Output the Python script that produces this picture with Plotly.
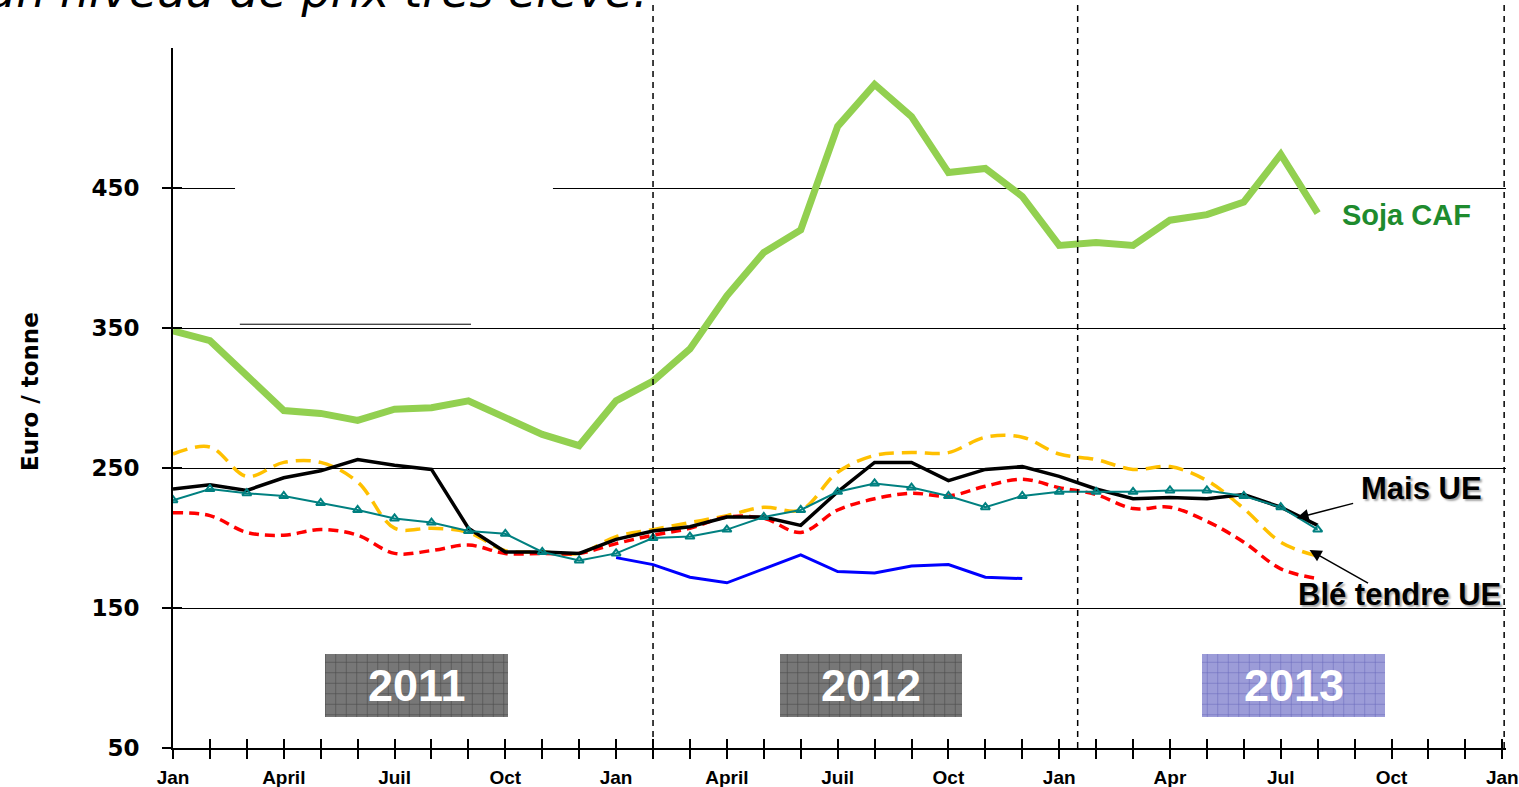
import plotly.graph_objects as go

# ---------------- data ----------------
months = list(range(32))                      # 0 = Jan 2011 ... 31 = Aug 2013
tick_pos = list(range(0, 37, 3))
tick_text = ["Jan", "April", "Juil", "Oct", "Jan", "April", "Juil", "Oct",
             "Jan", "Apr", "Jul", "Oct", "Jan"]
y_ticks = [50, 150, 250, 350, 450]

soja_caf = [348, 341, 316, 291, 289, 284, 292, 293, 298, 286, 274, 266,
            298, 312, 335, 373, 404, 420, 494, 524, 501, 461, 464, 444,
            409, 411, 409, 427, 431, 440, 474, 432]
mais_ue = [235, 238, 234, 243, 248, 256, 252, 249, 207, 190, 190, 189,
           199, 205, 208, 215, 215, 209, 233, 254, 254, 241, 249, 251,
           244, 235, 228, 229, 228, 231, 222, 209]
orge = [260, 265, 244, 254, 254, 240, 207, 207, 204, 191, 190, 189,
        201, 206, 211, 216, 222, 220, 247, 259, 261, 261, 272, 272,
        260, 256, 249, 251, 241, 221, 197, 187]
ble_tendre = [218, 216, 204, 202, 206, 202, 189, 191, 195, 189, 189, 189,
              196, 202, 207, 215, 214, 204, 220, 228, 232, 230, 237, 242,
              236, 231, 221, 222, 212, 197, 178, 171]
teal_series = [227, 235, 232, 230, 225, 220, 214, 211, 205, 203, 190, 184,
               189, 200, 201, 206, 215, 220, 233, 239, 236, 230, 222, 230,
               233, 233, 233, 234, 234, 230, 222, 206]
blue_months = list(range(12, 24))
blue_series = [186, 181, 172, 168, 178, 188, 176, 175, 180, 181, 172, 171]

years = ["2011", "2012", "2013"]

# ---------------- layout constants ----------------
X_RANGE = [0, 36.1]
Y_RANGE = [50, 550]
year_box_x = [6.6, 18.9, 30.35]
year_box_w = 4.95
year_box_base = 72
year_box_h = 45
year_fill = ["#777777", "#777777", "#9c9cd8"]
year_grid = ["#151515", "#151515", "#3434a0"]
sep_lines = [13, 24.5, 36.05]

fig = go.Figure()

# year boxes (hatched)
for i, yr in enumerate(years):
    fig.add_trace(go.Bar(
        x=[year_box_x[i]], y=[year_box_h], base=[year_box_base],
        width=[year_box_w],
        marker=dict(color=year_fill[i], line=dict(width=0),
                    pattern=dict(shape="+", fgcolor=year_grid[i],
                                 bgcolor=year_fill[i], size=10.5, solidity=0.1)),
        hoverinfo="skip", showlegend=False))

fig.add_trace(go.Scatter(x=months, y=orge, mode="lines", line_shape="spline",
                         line=dict(color="#ffc000", width=3.5, dash="15px,8px"),
                         showlegend=False))
fig.add_trace(go.Scatter(x=months, y=ble_tendre, mode="lines", line_shape="spline",
                         line=dict(color="#ff0000", width=3.5, dash="10px,6px"),
                         showlegend=False))
fig.add_trace(go.Scatter(x=months, y=mais_ue, mode="lines",
                         line=dict(color="#000000", width=3.5),
                         showlegend=False))
fig.add_trace(go.Scatter(x=months, y=teal_series, mode="lines+markers",
                         line=dict(color="#008080", width=2),
                         marker=dict(symbol="triangle-up-open", size=8,
                                     color="#008080", line=dict(width=2, color="#008080")),
                         showlegend=False))
fig.add_trace(go.Scatter(x=blue_months, y=blue_series, mode="lines",
                         line=dict(color="#0000ff", width=3),
                         showlegend=False))
fig.add_trace(go.Scatter(x=months, y=soja_caf, mode="lines",
                         line=dict(color="#92d050", width=7),
                         showlegend=False))
# overlay axes carrier (for crossing tick marks)
fig.add_trace(go.Scatter(x=[], y=[], xaxis="x2", yaxis="y2", showlegend=False))

shapes = []
# gap in the 450 gridline and stray line
shapes.append(dict(type="rect", xref="x", yref="y", x0=1.68, x1=10.29, y0=446, y1=454,
                   fillcolor="white", line=dict(width=0), layer="above"))
shapes.append(dict(type="line", xref="x", yref="y", x0=1.81, x1=8.07, y0=352.7, y1=352.7,
                   line=dict(color="black", width=1), layer="above"))
for sx in sep_lines:
    shapes.append(dict(type="line", xref="x", yref="paper", x0=sx, x1=sx, y0=0, y1=1.075,
                       line=dict(color="black", width=1.5, dash="6px,5px"), layer="above"))

annotations = []
# clipped heading at the very top (cut by the top edge as in the original slide)
annotations.append(dict(xref="paper", yref="paper", x=0.358, y=1.04,
                        xanchor="right", yanchor="bottom", showarrow=False,
                        text="un niveau de prix très élevé.",
                        font=dict(family="DejaVu Sans", size=46, color="black",
                                  style="italic")))
for i, yr in enumerate(years):
    annotations.append(dict(x=year_box_x[i], y=year_box_base + year_box_h / 2,
                            xref="x", yref="y", showarrow=False, text="<b>%s</b>" % yr,
                            font=dict(family="Liberation Sans, Arial", size=45, color="white")))
annotations.append(dict(x=33.4, y=430.7, xref="x", yref="y", showarrow=False,
                        text="<b>Soja CAF</b>",
                        font=dict(family="Liberation Sans, Arial", size=29, color="#1e8b2e")))
annotations.append(dict(x=33.81, y=235.7, xref="x", yref="y", showarrow=False,
                        text="<b>Mais UE</b>",
                        font=dict(family="Liberation Sans, Arial", size=31, color="black",
                                  shadow="2px 2px 2px rgba(0,0,0,0.35)")))
annotations.append(dict(x=33.22, y=160, xref="x", yref="y", showarrow=False,
                        text="<b>Blé tendre UE</b>",
                        font=dict(family="Liberation Sans, Arial", size=31, color="black",
                                  shadow="2px 2px 2px rgba(0,0,0,0.35)")))
# arrows
annotations.append(dict(x=30.43, y=214.3, xref="x", yref="y", text="", showarrow=True,
                        ax=58, ay=-15, arrowhead=2, arrowsize=1.6, arrowwidth=1.5,
                        arrowcolor="black", standoff=0))
annotations.append(dict(x=30.78, y=191.4, xref="x", yref="y", text="", showarrow=True,
                        ax=60, ay=34, arrowhead=2, arrowsize=1.6, arrowwidth=1.5,
                        arrowcolor="black", standoff=0))
# y axis title
annotations.append(dict(xref="paper", yref="paper", x=-0.1073, y=0.51, textangle=-90,
                        xanchor="center", yanchor="middle",
                        showarrow=False, text="<b>Euro / tonne</b>",
                        font=dict(family="DejaVu Sans", size=23, color="black")))

x_ticktext = ["<b>%s</b>" % tick_text[tick_pos.index(m)] if m in tick_pos else ""
              for m in range(37)]

fig.update_layout(
    width=1519, height=787,
    margin=dict(l=173, r=13, t=48, b=39, autoexpand=False),
    plot_bgcolor="white", paper_bgcolor="white",
    bargap=0,
    shapes=shapes, annotations=annotations,
    xaxis=dict(range=X_RANGE, tickvals=list(range(37)), ticktext=x_ticktext,
               ticks="outside", ticklen=9, tickwidth=1.5, tickcolor="black",
               showline=True, linecolor="black", linewidth=2,
               showgrid=False, zeroline=False, automargin=False,
               tickfont=dict(family="Liberation Sans, Arial", size=19, color="black"),
               ticklabelstandoff=2),
    yaxis=dict(range=Y_RANGE, tickvals=y_ticks,
               ticktext=["<b>%d</b>" % v for v in y_ticks],
               ticks="outside", ticklen=9, tickwidth=1.5, tickcolor="black",
               showline=True, linecolor="black", linewidth=2,
               showgrid=True, gridcolor="black", gridwidth=1.4, zeroline=False,
               automargin=False,
               tickfont=dict(family="DejaVu Sans", size=23, color="black"),
               ticklabelstandoff=18),
    xaxis2=dict(range=X_RANGE, overlaying="x", anchor="y2", side="bottom",
                tickvals=list(range(37)), ticks="inside", ticklen=9, tickwidth=1.5,
                tickcolor="black", showticklabels=False, showgrid=False,
                showline=False, zeroline=False, automargin=False),
    yaxis2=dict(range=Y_RANGE, overlaying="y", anchor="x2", side="left",
                tickvals=y_ticks, ticks="inside", ticklen=9, tickwidth=1.5,
                tickcolor="black", showticklabels=False, showgrid=False,
                showline=False, zeroline=False, automargin=False),
)

fig.write_html("out.html", config={"displayModeBar": False},
               post_script="document.body.style.margin='0';"
                           "document.body.style.overflow='hidden';")
